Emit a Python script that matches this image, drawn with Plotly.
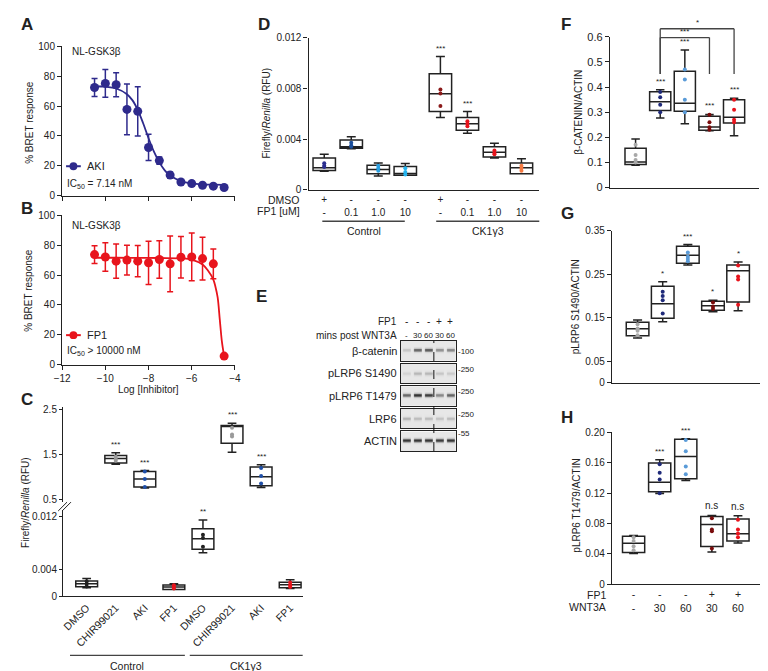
import math
import plotly.graph_objects as go

W, H = 768, 671
FONT = "Liberation Sans, Arial, sans-serif"
INK = "#222222"

# ---------------- A / B : NanoBRET dose response ----------------
log_conc = [-10.5, -10, -9.5, -9, -8.5, -8, -7.5, -7, -6.5, -6, -5.5, -5, -4.5]
aki_resp = [72.5, 75.2, 74.3, 57.8, 56.5, 32.3, 23.5, 13.8, 9.2, 8.1, 7.0, 6.4, 5.5]
aki_err = [6, 9.3, 8, 17, 16.5, 8.8, 2.5, 2, 1.5, 1.5, 1, 1, 1]
aki_fit_x = [-10.5, -10, -9.5, -9, -8.75, -8.5, -8.25, -8, -7.75, -7.5, -7.25, -7, -6.5, -6, -5.5, -5, -4.5]
aki_fit_y = [73.3, 73.0, 71.8, 68.0, 64.0, 57.5, 48.5, 38.5, 29.5, 22.3, 17.0, 13.5, 9.8, 8.2, 7.6, 7.4, 7.3]

fp1_resp = [73.7, 72.1, 69.3, 70.0, 69.3, 68.2, 70.4, 67.5, 71.9, 72.1, 71.0, 67.5, 5.7]
fp1_err = [6, 9.5, 11.5, 10, 10.5, 14.5, 12.5, 18.7, 13.9, 16, 14.3, 10, 0]
fp1_fit_x = [-10.5, -9.5, -8.5, -7.5, -6.5, -6, -5.5, -5.25, -5, -4.9, -4.8, -4.7, -4.6, -4.5]
fp1_fit_y = [71.6, 71.6, 71.5, 71.4, 71.2, 70.4, 67.0, 63.0, 57.0, 52.0, 45.0, 30.0, 15.0, 5.7]

# ---------------- C : TOPflash, broken axis ----------------
c_labels = ["DMSO", "CHIR99021", "AKI", "FP1", "DMSO", "CHIR99021", "AKI", "FP1"]
c_hi_pos = [1, 2, 5, 6]
c_hi_q1 = [1.31, 0.77, 1.75, 0.80]
c_hi_med = [1.41, 0.95, 2.13, 1.00]
c_hi_q3 = [1.48, 1.12, 2.15, 1.22]
c_hi_lo = [1.28, 0.75, 1.55, 0.76]
c_hi_hi = [1.54, 1.14, 2.20, 1.27]
c_hi_pts = [[1.45, 1.40, 1.36], [1.12, 0.95, 0.77], [2.10, 1.95, 1.90], [1.20, 1.02, 0.85]]
c_hi_col = ["#9a9a9a", "#1f4fa8", "#9a9a9a", "#1f4fa8"]
c_hi_sig = ["***", "***", "***", "***"]

c_lo_pos = [0, 3, 4, 7]
c_lo_q1 = [0.00144, 0.00104, 0.0071, 0.00130]
c_lo_med = [0.00192, 0.00140, 0.00869, 0.00175]
c_lo_q3 = [0.00232, 0.00173, 0.0102, 0.00215]
c_lo_lo = [0.00129, 0.00104, 0.0066, 0.00120]
c_lo_hi = [0.00271, 0.00192, 0.01154, 0.00250]
c_lo_pts = [[0.0023, 0.0019, 0.0015], [0.0017, 0.0014, 0.0012], [0.0093, 0.0088, 0.0075], [0.0021, 0.0017, 0.0014]]
c_lo_col = ["#222222", "#e8141c", "#222222", "#e8141c"]
c_lo_sig = ["", "", "**", ""]

# ---------------- D : FP1 dose in CK1g3 cells ----------------
d_pos = [0, 1, 2, 3, 4.3, 5.3, 6.3, 7.3]
d_dmso = ["+", "-", "-", "-", "+", "-", "-", "-"]
d_fp1 = ["-", "0.1", "1.0", "10", "-", "0.1", "1.0", "10"]
d_q1 = [0.00152, 0.00327, 0.00126, 0.00114, 0.00617, 0.0047, 0.00258, 0.00126]
d_med = [0.00173, 0.0034, 0.0016, 0.00129, 0.00758, 0.0052, 0.00296, 0.00173]
d_q3 = [0.0025, 0.00392, 0.00193, 0.00183, 0.00915, 0.0057, 0.0034, 0.00211]
d_lo = [0.00147, 0.00323, 0.00108, 0.00114, 0.0057, 0.00446, 0.0025, 0.00126]
d_hi = [0.00281, 0.00418, 0.00211, 0.00207, 0.0105, 0.00617, 0.00366, 0.00245]
d_pts = [[0.0021, 0.0019, 0.0018], [0.0037, 0.0035, 0.0034], [0.0019, 0.0017, 0.0015],
         [0.0017, 0.0014, 0.0012], [0.0079, 0.0076, 0.0066], [0.0054, 0.0052, 0.0050],
         [0.0031, 0.0029, 0.0028], [0.0019, 0.0017, 0.0015]]
d_col = ["#2b2e8f", "#1c4f9c", "#2a9fe0", "#25b4ef", "#8b1a1a", "#e8141c", "#e8141c", "#f47a42"]
d_sig = ["", "", "", "", "***", "***", "", ""]

# ---------------- E : western blot ----------------
e_fp1 = ["-", "-", "-", "+", "+"]
e_mins = ["-", "30", "60", "30", "60"]
e_rows = ["β-catenin", "pLRP6 S1490", "pLRP6 T1479", "LRP6", "ACTIN"]
e_mw = ["100", "250", "250", "250", "55"]
e_band = [[0.15, 0.60, 0.65, 0.40, 0.45],
          [0.08, 0.20, 0.20, 0.14, 0.12],
          [0.60, 0.85, 0.80, 0.45, 0.62],
          [0.22, 0.18, 0.18, 0.15, 0.18],
          [0.85, 0.85, 0.85, 0.82, 0.85]]
e_band_top = [0.45, 0.5, 0.45, 0.5, 0.45]

# ---------------- F / G / H : quantification ----------------
fgh_col = ["#a8a8a8", "#1f2a7a", "#5a9bd8", "#7a0c0c", "#e8141c"]

f_q1 = [0.0915, 0.307, 0.304, 0.228, 0.257]
f_med = [0.1017, 0.342, 0.336, 0.241, 0.280]
f_q3 = [0.1565, 0.381, 0.463, 0.284, 0.350]
f_lo = [0.0888, 0.277, 0.254, 0.226, 0.206]
f_hi = [0.193, 0.389, 0.548, 0.291, 0.356]
f_pts = [[0.17, 0.13, 0.11, 0.10], [0.38, 0.36, 0.33, 0.30], [0.47, 0.43, 0.35, 0.30],
         [0.29, 0.26, 0.24, 0.23], [0.35, 0.31, 0.27, 0.26]]
f_sig = ["", "***", "***", "***", "***"]

g_q1 = [0.1086, 0.1486, 0.2753, 0.1674, 0.1864]
g_med = [0.1244, 0.182, 0.2934, 0.1774, 0.258]
g_q3 = [0.1396, 0.2226, 0.3145, 0.188, 0.2715]
g_lo = [0.1034, 0.141, 0.2715, 0.1638, 0.166]
g_hi = [0.1448, 0.233, 0.3183, 0.190, 0.278]
g_pts = [[0.135, 0.125, 0.12, 0.11], [0.21, 0.20, 0.19, 0.16], [0.30, 0.29, 0.285, 0.28],
         [0.185, 0.175, 0.17], [0.27, 0.245, 0.238, 0.18]]
g_sig = ["", "*", "***", "*", "*"]

h_q1 = [0.0419, 0.1217, 0.139, 0.0497, 0.057]
h_med = [0.054, 0.1342, 0.1683, 0.0786, 0.0665]
h_q3 = [0.0634, 0.1597, 0.1908, 0.0893, 0.086]
h_lo = [0.0406, 0.1196, 0.1368, 0.0427, 0.0544]
h_hi = [0.0643, 0.164, 0.1916, 0.0906, 0.0902]
h_pts = [[0.062, 0.057, 0.05, 0.045], [0.158, 0.147, 0.138, 0.12], [0.19, 0.175, 0.155, 0.145],
         [0.087, 0.072, 0.07, 0.047], [0.085, 0.072, 0.067, 0.062]]
h_sig = ["", "***", "***", "n.s", "n.s"]
h_fp1 = ["-", "-", "-", "+", "+"]
h_wnt = ["-", "30", "60", "30", "60"]


def dx(a, b):
    return [a / W, b / W]


def dy(top, bottom):
    return [1 - bottom / H, 1 - top / H]


def px(x):
    return x / W


def py(y):
    return 1 - y / H


base_ax = dict(showline=True, linecolor=INK, linewidth=1.3, ticks="outside", ticklen=4,
               tickwidth=1.2, tickcolor=INK, showgrid=False, zeroline=False,
               tickfont=dict(size=10, color=INK, family=FONT))

fig = go.Figure()
annotations = []
shapes = []


def note(x, y, text, size=10, xa="center", ya="middle", xref="paper", yref="paper", **kw):
    annotations.append(dict(x=x, y=y, text=text, xref=xref, yref=yref, xanchor=xa, yanchor=ya,
                            showarrow=False, font=dict(size=size, color=INK, family=FONT), **kw))


def boxes(xa, ya, pos, q1, med, q3, lo, hi, pts, cols, sig, width, sig_size=8):
    fig.add_trace(go.Box(x=pos, q1=q1, median=med, q3=q3, lowerfence=lo, upperfence=hi,
                         xaxis=xa, yaxis=ya, width=width, whiskerwidth=0.4,
                         fillcolor="rgba(0,0,0,0)", line=dict(color=INK, width=1.5),
                         boxpoints=False, hoverinfo="skip"))
    xs, ys, cs = [], [], []
    for p, vals, c in zip(pos, pts, cols):
        for v in vals:
            xs.append(p)
            ys.append(v)
            cs.append(c)
    fig.add_trace(go.Scatter(x=xs, y=ys, mode="markers", xaxis=xa, yaxis=ya,
                             marker=dict(size=4, color=cs), hoverinfo="skip"))
    for p, h, s in zip(pos, hi, sig):
        if s:
            note(p, h, s, size=sig_size if s != "n.s" else 10, ya="bottom",
                 xref=xa, yref=ya, yshift=2)


# ---- A
fig.add_trace(go.Scatter(x=aki_fit_x, y=aki_fit_y, mode="lines", line=dict(color="#2e2a8c", width=1.8, shape="spline"),
                         xaxis="x", yaxis="y"))
fig.add_trace(go.Scatter(x=log_conc, y=aki_resp, mode="markers", xaxis="x", yaxis="y",
                         marker=dict(size=9, color="#2e2a8c"),
                         error_y=dict(type="data", array=aki_err, thickness=1.5, width=3, color="#2e2a8c")))
# ---- B
fig.add_trace(go.Scatter(x=fp1_fit_x, y=fp1_fit_y, mode="lines", line=dict(color="#e8141c", width=1.8, shape="spline"),
                         xaxis="x2", yaxis="y2"))
fig.add_trace(go.Scatter(x=log_conc, y=fp1_resp, mode="markers", xaxis="x2", yaxis="y2",
                         marker=dict(size=9, color="#e8141c"),
                         error_y=dict(type="data", array=fp1_err, thickness=1.5, width=3, color="#e8141c")))

# ---- C
c_range = [-0.81, 7.43]
boxes("x3", "y3", c_hi_pos, c_hi_q1, c_hi_med, c_hi_q3, c_hi_lo, c_hi_hi, c_hi_pts, c_hi_col, c_hi_sig, 0.75)
boxes("x4", "y4", c_lo_pos, c_lo_q1, c_lo_med, c_lo_q3, c_lo_lo, c_lo_hi, c_lo_pts, c_lo_col, c_lo_sig, 0.75)

# ---- D
boxes("x5", "y5", d_pos, d_q1, d_med, d_q3, d_lo, d_hi, d_pts, d_col, d_sig, 0.83)

# ---- E blots
sub = 10
bx = [-0.5 + (i + 0.5) / sub for i in range(5 * sub)]
by = [(j + 0.5) / 30 for j in range(30)]
for k, (levels, top) in enumerate(zip(e_band, e_band_top)):
    z = []
    for yv in by:
        vprof = math.exp(-((yv - (1 - top)) / 0.085) ** 2)
        row = []
        for xv in bx:
            lane = int(round(xv))
            d = abs(xv - lane)
            hprof = 1.0 if d < 0.34 else max(0.0, 1 - (d - 0.34) / 0.1)
            row.append(0.1 + levels[lane] * vprof * hprof)
        z.append(row)
    fig.add_trace(go.Heatmap(x=bx, y=by, z=z, xaxis="x%d" % (6 + k), yaxis="y%d" % (6 + k),
                             colorscale=[[0, "#ffffff"], [1, "#0c0c0c"]], zmin=0, zmax=1,
                             showscale=False, zsmooth="best", hoverinfo="skip"))

# ---- F G H
f_pos = list(range(5))
boxes("x11", "y11", f_pos, f_q1, f_med, f_q3, f_lo, f_hi, f_pts, fgh_col, f_sig, 0.86)
boxes("x12", "y12", f_pos, g_q1, g_med, g_q3, g_lo, g_hi, g_pts, fgh_col, g_sig, 0.9)
boxes("x13", "y13", f_pos, h_q1, h_med, h_q3, h_lo, h_hi, h_pts, fgh_col, h_sig, 0.85)

# ---------------- axes ----------------
lay = {}
lay["xaxis"] = dict(base_ax, domain=dx(47, 223), range=[-12, -4], tickvals=[-12, -10, -8, -6, -4],
                    showticklabels=False, anchor="y")
lay["yaxis"] = dict(base_ax, domain=dy(33, 185), range=[0, 100], dtick=20, anchor="x")
lay["xaxis2"] = dict(base_ax, domain=dx(47, 223), range=[-12, -4], tickvals=[-12, -10, -8, -6, -4], anchor="y2")
lay["yaxis2"] = dict(base_ax, domain=dy(205, 357), range=[0, 100], dtick=20, anchor="x2")

lay["xaxis3"] = dict(domain=dx(48, 292), range=c_range, visible=False, anchor="y3")
lay["yaxis3"] = dict(base_ax, domain=dy(400, 497), range=[0.434, 2.566], tickvals=[0.5, 1.5, 2.5],
                     ticklen=3, anchor="x3")
lay["xaxis4"] = dict(base_ax, domain=dx(48, 292), range=c_range, tickvals=list(range(8)), ticktext=c_labels,
                     tickangle=-45, ticks="", anchor="y4")
lay["xaxis4"]["tickfont"] = dict(size=10.5, color=INK, family=FONT)
lay["yaxis4"] = dict(base_ax, domain=dy(505, 593), range=[0, 0.01304], tickvals=[0, 0.004, 0.012],
                     ticktext=["0", "0.004", "0.012"], ticklen=3, anchor="x4")

lay["xaxis5"] = dict(base_ax, domain=dx(298, 533), range=[-0.58, 7.96], tickvals=d_pos,
                     ticktext=["%s<br>%s" % (a, b) for a, b in zip(d_dmso, d_fp1)], ticks="", anchor="y5")
lay["yaxis5"] = dict(base_ax, domain=dy(24, 179), range=[0, 0.012], tickvals=[0, 0.004, 0.008, 0.012],
                     ticktext=["0", "0.004", "0.008", "0.012"], anchor="x5")

e_tops = [333, 356, 379, 402, 425]
for k, t in enumerate(e_tops):
    lay["xaxis%d" % (6 + k)] = dict(domain=dx(392, 448), range=[-0.5, 4.5], showline=True, mirror=True,
                                    linecolor=INK, linewidth=1.2, ticks="", showticklabels=False,
                                    showgrid=False, zeroline=False, anchor="y%d" % (6 + k))
    lay["yaxis%d" % (6 + k)] = dict(domain=dy(t, t + 20), range=[0, 1], showline=True, mirror=True,
                                    linecolor=INK, linewidth=1.2, ticks="", showticklabels=False,
                                    showgrid=False, zeroline=False, anchor="x%d" % (6 + k))

lay["xaxis11"] = dict(base_ax, domain=dx(605, 757), range=[-1.04, 5.02], ticks="", showticklabels=False, anchor="y11")
lay["yaxis11"] = dict(base_ax, domain=dy(23.3, 176.7), range=[0, 0.6], dtick=0.1, anchor="x11",
                      tickfont=dict(size=11, color=INK, family=FONT))
lay["xaxis12"] = dict(base_ax, domain=dx(607, 767), range=[-1.02, 5.23], ticks="", showticklabels=False, anchor="y12")
lay["yaxis12"] = dict(base_ax, domain=dy(220.7, 375.7), range=[0, 0.35],
                      tickvals=[0, 0.05, 0.15, 0.25, 0.35], ticktext=["0", "0.05", "0.15", "0.25", "0.35"],
                      anchor="x12")
lay["xaxis13"] = dict(base_ax, domain=dx(607, 767), range=[-0.83, 5.19], ticks="", tickvals=f_pos,
                      ticktext=["%s<br>%s" % (a, b) for a, b in zip(h_fp1, h_wnt)], anchor="y13")
lay["xaxis13"]["tickfont"] = dict(size=10.5, color=INK, family=FONT)
lay["yaxis13"] = dict(base_ax, domain=dy(426, 580.7), range=[0, 0.2],
                      tickvals=[0, 0.04, 0.08, 0.12, 0.16, 0.2],
                      ticktext=["0", "0.04", "0.08", "0.12", "0.16", "0.20"], anchor="x13")

# ---------------- text ----------------
for letter, x, y in [("A", 3, 11), ("B", 3, 198), ("C", 3, 393), ("D", 244, 11), ("E", 242, 288),
                     ("F", 553, 11), ("G", 553, 203), ("H", 553, 411)]:
    note(px(x), py(y), "<b>%s</b>" % letter, size=17, xa="left")

note(px(55), py(38), "NL-GSK3β", xa="left")
note(px(55), py(215), "NL-GSK3β", xa="left")
note(px(70), py(155), "AKI", size=11, xa="left")
note(px(70), py(327), "FP1", size=11, xa="left")
note(px(50), py(173), "IC<sub>50</sub> = 7.14 nM", xa="left")
note(px(50), py(343), "IC<sub>50</sub> > 10000 nM", xa="left")
note(px(13), py(110), "% BRET response", textangle=-90)
note(px(13), py(281), "% BRET response", textangle=-90)
note(px(135), py(382), "Log [Inhibitor]")
for yc, col in [(155, "#2e2a8c"), (327, "#e8141c")]:
    shapes.append(dict(type="line", xref="paper", yref="paper", x0=px(51), x1=px(66), y0=py(yc), y1=py(yc),
                       line=dict(color=col, width=2)))
    shapes.append(dict(type="circle", xref="paper", yref="paper", x0=px(54.5), x1=px(62.5),
                       y0=py(yc + 4), y1=py(yc - 4), fillcolor=col, line=dict(color=col, width=0)))

# C titles, break marks, groups
note(px(9), py(497), "Firefly/<i>Renilla</i> (RFU)", textangle=-90)
for off in (0, 4):
    shapes.append(dict(type="line", xref="paper", yref="paper", x0=px(43 + off), x1=px(52 + off),
                       y0=py(506), y1=py(497), line=dict(color=INK, width=1)))
for x0, x1, lab in [(55, 172, "Control"), (177, 292, "CK1γ3")]:
    shapes.append(dict(type="line", xref="paper", yref="paper", x0=px(x0), x1=px(x1), y0=py(653), y1=py(653),
                       line=dict(color="#444", width=1.3)))
    note(px((x0 + x1) / 2), py(664), lab, size=10.5)

# D titles and groups
note(px(255), py(101), "Firefly/<i>Renilla</i> (RFU)", textangle=-90)
note(px(291), py(189), "DMSO", size=10.5, xa="right")
note(px(291), py(201), "FP1 [uM]", size=10.5, xa="right")
for x0, x1, lab in [(312, 396, "Control"), (428, 533, "CK1γ3")]:
    shapes.append(dict(type="line", xref="paper", yref="paper", x0=px(x0), x1=px(x1), y0=py(211), y1=py(211),
                       line=dict(color="#444", width=1.3)))
    note(px((x0 + x1) / 2), py(221), lab, size=10.5)

# E labels
note(px(390), py(313), "FP1", size=10, xa="right")
note(px(390), py(327), "mins post WNT3A", size=10, xa="right")
for i, (a, b) in enumerate(zip(e_fp1, e_mins)):
    note(i, py(313), a, size=10, xref="x6")
    note(i, py(327), b, size=8, xref="x6")
for name, t in zip(e_rows, e_tops):
    note(px(390), py(t + 10), name, size=11, xa="right")
mw_y = [344, 362, 384, 408, 427]
for mw, yv in zip(e_mw, mw_y):
    note(px(448), py(yv), "-" + mw, size=8, xa="left")
shapes.append(dict(type="line", xref="x6", yref="paper", x0=2.5, x1=2.5, y0=py(445), y1=py(333),
                   line=dict(color="#111", width=1, dash="dash")))

# F G H titles
note(px(573), py(100), "β-CATENIN/ACTIN", textangle=-90)
note(px(570), py(298), "pLRP6 S1490/ACTIN", textangle=-90)
note(px(570), py(501), "pLRP6 T1479/ACTIN", textangle=-90)
note(px(603), py(592), "FP1", size=10.5, xa="right")
note(px(603), py(604), "WNT3A", size=10.5, xa="right")

# F brackets
for a, b, ytop, lab in [(1, 3, 24, "***"), (1, 4, 15, "*")]:
    for xv in (a, b):
        shapes.append(dict(type="line", xref="x11", yref="paper", x0=xv, x1=xv, y0=py(61), y1=py(ytop),
                           line=dict(color="#444", width=1.3)))
    shapes.append(dict(type="line", xref="x11", yref="paper", x0=a, x1=b, y0=py(ytop), y1=py(ytop),
                       line=dict(color="#444", width=1.3)))
    note((a + b) / 2, py(ytop), lab, size=8, xref="x11", ya="bottom")

lay.update(dict(width=W, height=H, margin=dict(l=0, r=0, t=0, b=0), showlegend=False,
                plot_bgcolor="white", paper_bgcolor="white", font=dict(family=FONT, color=INK),
                annotations=annotations, shapes=shapes))
fig.update_layout(lay)
fig.write_html("out.html")
